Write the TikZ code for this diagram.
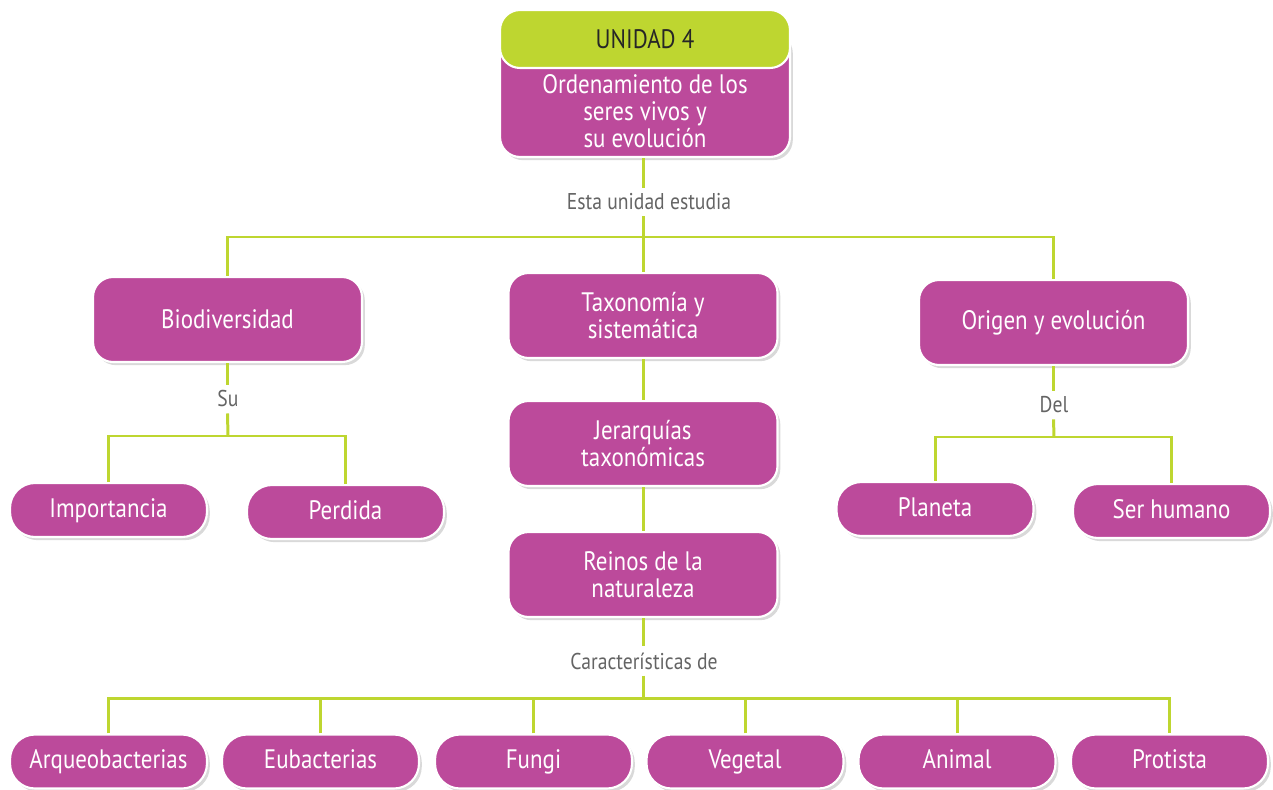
\documentclass[tikz,border=0pt]{standalone}
\usepackage{fontspec}
\setmainfont[FakeStretch=0.86]{PT Sans}
\usetikzlibrary{positioning,shadows}
\definecolor{morado}{RGB}{188,74,155}
\definecolor{lima}{RGB}{190,214,48}
\definecolor{gristxt}{RGB}{100,100,100}

\begin{document}
\begin{tikzpicture}[x=0.02cm, y=-0.02cm, font=\fontsize{15.2}{15.3}\selectfont,
  base/.style={draw=white, line width=1.2pt, fill=morado, text=white, align=center,
    rounded corners=0.4cm, minimum width=5.38cm, minimum height=1.7cm},
  sombra/.style={drop shadow={opacity=0.3, shadow xshift=1.6pt, shadow yshift=-1.8pt}},
  caja/.style={base, sombra},
  hoja/.style={caja, rounded corners=0.5cm, minimum width=3.94cm, minimum height=1.08cm,
    text height=2.2ex, text depth=0.5ex},
  lab/.style={text=gristxt, font=\fontsize{13}{15}\selectfont},
  enlace/.style={draw=lima, line width=1.7pt}]
\useasboundingbox (0,0) rectangle (1273,790);

% cabecera
\node[caja, minimum width=5.8cm, minimum height=2.54cm] (cuerpo) at (645,93.5) {};
\node[base, fill=lima, text=black!85, minimum width=5.8cm, minimum height=1.16cm] (unidad) at (645,39) {UNIDAD 4};
\node[text=white, align=center] (titulo) at (645,111) {Ordenamiento de los\\seres vivos y\\su evolución};
\node[lab] (esta) at (649,202) {Esta unidad estudia};

% primer nivel
\node[caja] (bio) at (227.5,319.5) {Biodiversidad};
\node[caja] (tax) at (643,315.5) {Taxonomía y\\sistemática};
\node[caja] (ori) at (1053.5,322.5) {Origen y evolución};
\coordinate (r1) at (643,237);
\draw[enlace] (cuerpo.south -| r1) -- (esta.north -| r1);
\draw[enlace] (esta.south -| r1) -- (r1);
\draw[enlace] (bio.north) |- (r1) -| (ori.north);
\draw[enlace] (r1) -- (tax.north);

% biodiversidad
\node[lab] (su) at (228,399) {Su};
\node[hoja] (imp) at (108.5,510) {Importancia};
\node[hoja] (per) at (345.5,512) {Perdida};
\coordinate (r2) at (228,436);
\draw[enlace] (bio.south) -- (su.north -| bio.south);
\draw[enlace] (su.south -| bio.south) -- (r2);
\draw[enlace] (imp.north) |- (r2) -| (per.north);

% taxonomia
\node[caja] (jer) at (643,443.5) {Jerarquías\\taxonómicas};
\node[caja] (rei) at (643,574.5) {Reinos de la\\naturaleza};
\draw[enlace] (tax) -- (jer);
\draw[enlace] (jer) -- (rei);
\node[lab] (car) at (644,661) {Características de};
\coordinate (r3) at (643,698);
\draw[enlace] (rei.south) -- (car.north -| rei.south);
\draw[enlace] (car.south -| rei.south) -- (r3);
\foreach \n/\x/\t in {arq/108.5/Arqueobacterias, eub/320.5/Eubacterias, fun/533.5/Fungi,
    veg/745/Vegetal, ani/957/Animal, pro/1169.5/Protista} {
  \node[hoja] (\n) at (\x,761.5) {\t};
}
\draw[enlace] (arq.north) |- (r3) -| (pro.north);
\foreach \n in {eub,fun,veg,ani} {\draw[enlace] (\n.north) -- (\n.north |- r3);}

% origen
\node[lab] (del) at (1054,405) {Del};
\node[hoja] (pla) at (935,509) {Planeta};
\node[hoja] (ser) at (1171.5,511) {Ser humano};
\coordinate (r4) at (1054,437);
\draw[enlace] (ori.south) -- (del.north -| ori.south);
\draw[enlace] (del.south -| ori.south) -- (r4);
\draw[enlace] (pla.north) |- (r4) -| (ser.north);
\end{tikzpicture}
\end{document}
